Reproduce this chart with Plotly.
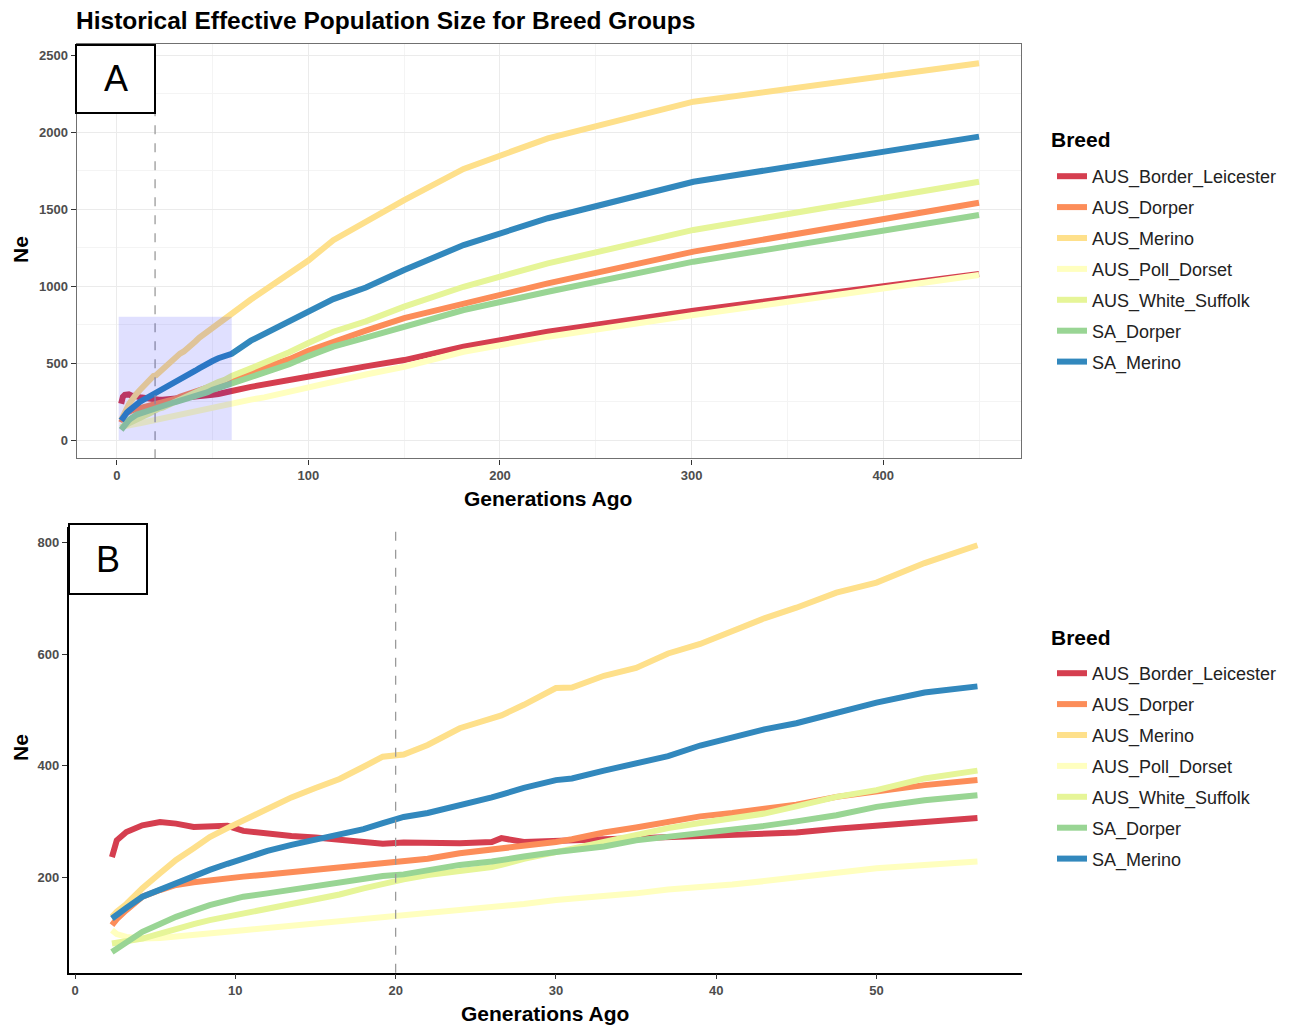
import plotly.graph_objects as go

W, H = 1293, 1027

breeds = ["AUS_Border_Leicester", "AUS_Dorper", "AUS_Merino", "AUS_Poll_Dorset",
          "AUS_White_Suffolk", "SA_Dorper", "SA_Merino"]
colors = ["#D53E4F", "#FC8D59", "#FEE08B", "#FFFFBF", "#E6F598", "#99D594", "#3288BD"]

# Recent generations (fine resolution, shown in both panels)
gen_recent = [2.3, 2.6, 3.2, 4.2, 5.3, 6.3, 7.4, 8.4, 9.5, 10.5, 12, 13.5, 15, 16.5, 18,
              19.2, 20.5, 22, 24, 26, 26.6, 28, 30, 31, 33, 35, 37, 39, 41, 43, 45, 47.5,
              50, 53, 56.3]
ne_recent_border_leicester = [236, 266, 281, 293, 299, 296, 290, 290, 292, 283, 278, 274, 271,
                              267, 262, 260, 262, 261, 261, 263, 270, 263, 266, 266, 268, 270,
                              272, 274, 278, 278, 280, 287, 293, 299, 306]
ne_recent_aus_dorper = [114, 125, 141, 165, 177, 186, 191, 195, 198, 201, 205, 209, 214, 218,
                        222, 225, 227, 233, 243, 249, 252, 256, 263, 268, 280, 289, 298, 309,
                        315, 322, 330, 344, 353, 365, 374]
ne_recent_aus_merino = [129, 138, 152, 180, 207, 231, 252, 272, 288, 302, 323, 343, 360, 376,
                        398, 416, 420, 437, 467, 484, 490, 509, 539, 540, 561, 575, 601, 618,
                        640, 664, 683, 710, 728, 763, 795]
ne_recent_poll_dorset = [105, 98, 93, 90, 91, 93, 96, 99, 102, 105, 109, 113, 118, 122, 125,
                         127, 131, 136, 141, 145, 147, 152, 159, 161, 165, 171, 178, 182, 187,
                         193, 199, 209, 216, 222, 228]
ne_recent_white_suffolk = [81, 82, 85, 90, 99, 108, 116, 123, 129, 135, 144, 152, 160, 169,
                           180, 189, 196, 204, 210, 218, 222, 233, 245, 251, 265, 276, 288,
                           297, 305, 314, 327, 344, 356, 377, 391]
ne_recent_sa_dorper = [66, 72, 81, 102, 116, 129, 140, 150, 158, 165, 171, 178, 184, 190, 197,
                       202, 205, 212, 222, 228, 231, 237, 245, 248, 255, 266, 272, 279, 286,
                       292, 300, 311, 326, 338, 347]
ne_recent_sa_merino = [126, 133, 145, 165, 178, 189, 202, 213, 224, 234, 247, 258, 268, 277,
                       286, 297, 308, 315, 328, 343, 348, 360, 374, 377, 391, 405, 417, 436,
                       450, 465, 476, 494, 513, 531, 542]

# Older generations (coarse bins, shown only in the full-history panel)
gen_history = [60, 70, 77, 90, 100, 113, 130, 150, 181, 225, 301, 450]
ne_history_border_leicester = [318, 345, 362, 392, 411, 440, 478, 519, 606, 703, 840, 1078]
ne_history_aus_dorper = [395, 440, 470, 525, 580, 638, 710, 792, 889, 1017, 1223, 1541]
ne_history_aus_merino = [820, 912, 970, 1080, 1165, 1298, 1415, 1558, 1760, 1959, 2197, 2446]
ne_history_poll_dorset = [240, 262, 277, 315, 346, 380, 425, 476, 573, 671, 812, 1071]
ne_history_white_suffolk = [415, 465, 500, 570, 630, 703, 770, 866, 995, 1147, 1364, 1677]
ne_history_sa_dorper = [365, 410, 440, 492, 545, 606, 665, 736, 844, 963, 1158, 1461]
ne_history_sa_merino = [560, 645, 688, 766, 835, 915, 990, 1104, 1266, 1440, 1677, 1970]

recent = [ne_recent_border_leicester, ne_recent_aus_dorper, ne_recent_aus_merino,
          ne_recent_poll_dorset, ne_recent_white_suffolk, ne_recent_sa_dorper,
          ne_recent_sa_merino]
history = [ne_history_border_leicester, ne_history_aus_dorper, ne_history_aus_merino,
           ne_history_poll_dorset, ne_history_white_suffolk, ne_history_sa_dorper,
           ne_history_sa_merino]

FONT = "Liberation Sans"
LINE_W = 6


def px(x):
    return x / W


def py(y):
    return 1 - y / H


fig = go.Figure()

for name, col, rec, hist in zip(breeds, colors, recent, history):
    fig.add_trace(go.Scatter(
        x=gen_recent + gen_history, y=rec + hist, mode="lines", name=name,
        line=dict(color=col, width=LINE_W), xaxis="x", yaxis="y",
        legend="legend", legendgroup="A_" + name))
for name, col, rec in zip(breeds, colors, recent):
    fig.add_trace(go.Scatter(
        x=gen_recent, y=rec, mode="lines", name=name,
        line=dict(color=col, width=LINE_W), xaxis="x2", yaxis="y2",
        legend="legend2", legendgroup="B_" + name))

tickfont = dict(family=FONT, size=13, color="#4D4D4D", weight="bold")
legend_style = dict(xanchor="left", yanchor="top",
                    font=dict(family=FONT, size=18, color="#222222"),
                    tracegroupgap=4.5, bgcolor="rgba(0,0,0,0)")

fig.update_layout(
    width=W, height=H,
    margin=dict(l=0, r=0, t=0, b=0),
    paper_bgcolor="white", plot_bgcolor="white",
    font=dict(family=FONT),
    xaxis=dict(domain=[px(76.7), px(1021)], range=[-20.9, 471.9], anchor="y",
               tickvals=[0, 100, 200, 300, 400], tickfont=tickfont,
               showgrid=True, gridcolor="#EBEBEB", gridwidth=1.3,
               minor=dict(tick0=0, dtick=50, showgrid=True, gridcolor="#F4F4F4", gridwidth=0.8),
               showline=True, mirror=True, linecolor="#707070", linewidth=1.4,
               ticks="outside", ticklen=5, tickcolor="#333333", tickwidth=1.1, zeroline=False),
    yaxis=dict(domain=[py(458.3), py(44.3)], range=[-118.8, 2569.5], anchor="x",
               tickvals=[0, 500, 1000, 1500, 2000, 2500], tickfont=tickfont,
               showgrid=True, gridcolor="#EBEBEB", gridwidth=1.3,
               minor=dict(tick0=0, dtick=250, showgrid=True, gridcolor="#F4F4F4", gridwidth=0.8),
               showline=True, mirror=True, linecolor="#707070", linewidth=1.4,
               ticks="outside", ticklen=5, tickcolor="#333333", tickwidth=1.1, zeroline=False),
    xaxis2=dict(domain=[px(68.5), px(1021.7)], range=[-0.41, 59.06], anchor="y2",
                tickvals=[0, 10, 20, 30, 40, 50], tickfont=tickfont, showgrid=False,
                showline=True, linecolor="#000000", linewidth=1.5,
                ticks="outside", ticklen=5, tickcolor="#333333", tickwidth=1.1, zeroline=False),
    yaxis2=dict(domain=[py(972.7), py(526.7)], range=[28.8, 828.2], anchor="x2",
                tickvals=[200, 400, 600, 800], tickfont=tickfont, showgrid=False,
                showline=True, linecolor="#000000", linewidth=1.5,
                ticks="outside", ticklen=5, tickcolor="#333333", tickwidth=1.1, zeroline=False),
    legend=dict(x=px(1052), y=py(158), **legend_style),
    legend2=dict(x=px(1052), y=py(655), **legend_style),
)

shapes = [
    # dashed reference line at 20 generations
    dict(type="line", xref="x", yref="y domain", x0=20, x1=20, y0=0, y1=1,
         line=dict(color="#9A9A9A", width=1.3, dash="dash")),
    dict(type="line", xref="x2", yref="y2 domain", x0=20, x1=20, y0=0, y1=1,
         line=dict(color="#9A9A9A", width=1.3, dash="dash")),
    # window highlighted in panel A that panel B zooms into
    dict(type="rect", xref="x", yref="y", x0=1, x1=60, y0=0, y1=800,
         fillcolor="rgba(0,0,255,0.12)", line=dict(width=0), layer="above"),
    # panel label boxes
    dict(type="rect", xref="paper", yref="paper", x0=px(76), x1=px(155), y0=py(113), y1=py(45),
         fillcolor="white", line=dict(color="black", width=2), layer="above"),
    dict(type="rect", xref="paper", yref="paper", x0=px(69), x1=px(147), y0=py(594), y1=py(524),
         fillcolor="white", line=dict(color="black", width=2), layer="above"),
]
fig.update_layout(shapes=shapes)

bold = dict(family=FONT, size=21, color="#000000", weight="bold")
ann = [
    dict(text="Historical Effective Population Size for Breed Groups", x=px(74), y=py(21),
         xanchor="left", yanchor="middle",
         font=dict(family=FONT, size=24.5, color="#000000", weight="bold")),
    dict(text="A", x=px(115.5), y=py(79), xanchor="center", yanchor="middle",
         font=dict(family=FONT, size=36, color="#000000")),
    dict(text="B", x=px(108), y=py(559), xanchor="center", yanchor="middle",
         font=dict(family=FONT, size=36, color="#000000")),
    dict(text="Generations Ago", x=px(548), y=py(498), xanchor="center", yanchor="middle",
         font=bold),
    dict(text="Generations Ago", x=px(545), y=py(1013), xanchor="center", yanchor="middle",
         font=bold),
    dict(text="Ne", x=px(20), y=py(250), xanchor="center", yanchor="middle", textangle=-90,
         font=bold),
    dict(text="Ne", x=px(20), y=py(748), xanchor="center", yanchor="middle", textangle=-90,
         font=bold),
    # legend titles
    dict(text="Breed", x=px(1049), y=py(139), xanchor="left", yanchor="middle", font=bold),
    dict(text="Breed", x=px(1049), y=py(637), xanchor="left", yanchor="middle", font=bold),
]
for a in ann:
    a.update(xref="paper", yref="paper", showarrow=False)
fig.update_layout(annotations=ann)

fig.write_html("out.html")
